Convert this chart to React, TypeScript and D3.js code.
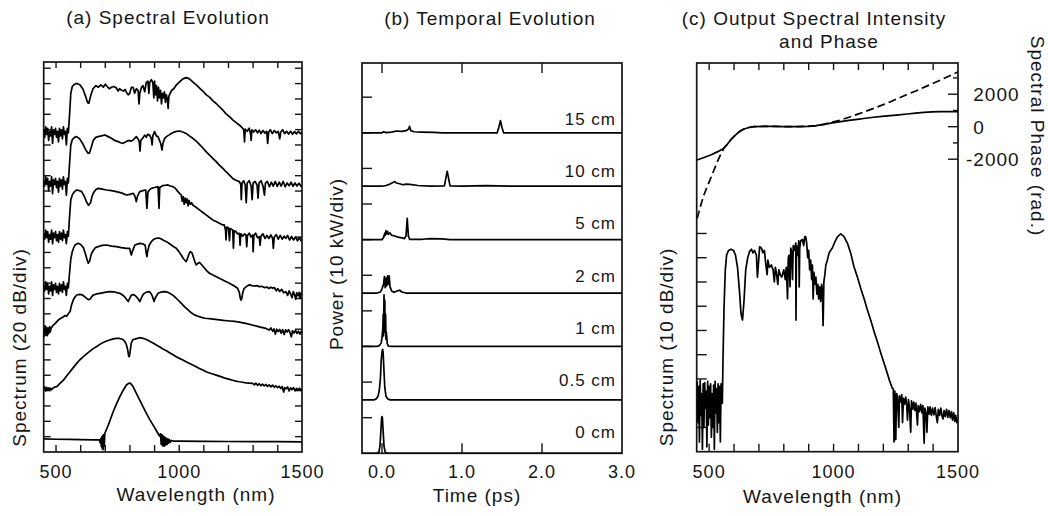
import * as d3 from "d3";
import { useEffect, useRef } from "react";

type Pt = [number, number];

const FONT = "'Liberation Sans', Arial, Helvetica, sans-serif";

// ---------------- (a) Spectral Evolution : level in plot units (1 unit ~ 1 dB/2) ----------------
// noise floors below the blue edge, sampled every 4 nm from 450 nm
const floorA15 = [212, 207, 214, 209, 213, 205, 211, 208, 214, 203, 212, 209, 213, 207, 211, 204, 213, 208, 212, 206, 214, 209, 211, 202, 213, 210];
const floorA10 = [179, 175, 181, 176, 180, 172, 178, 175, 181, 170, 179, 176, 180, 174, 178, 171, 180, 175, 179, 173, 181, 176, 178, 169, 180, 177];
const floorA5 = [144, 140, 146, 141, 145, 138, 143, 140, 146, 137, 144, 141, 145, 139, 143, 138, 145, 140, 144, 139, 146, 141, 143, 137, 145, 142];
const floorA2 = [110, 106, 112, 107, 111, 104, 109, 106, 112, 103, 110, 107, 111, 105, 109, 104, 111, 106, 110, 105, 112, 107, 109, 103, 111, 108];

const bodyA15: Pt[] = [[555,222],[560,236],[566,240.5],[575,242],[585,242.5],[598,241.5],[610,238.5],[620,234],[628,230],[633,229.5],[640,234],[650,239],[662,241],[672,240],[682,241.5],[692,240],[700,242],[708,240.5],[716,239],[725,240],[735,240.5],[745,239.5],[752,237.5],[758,239],[766,238],[774,237.5],[781,238.5],[786,236.5],[793,235],[799,236],[806,240],[813,240],[819,236],[826,239],[833,238],[837,229],[840,236],[847,240],[853,241],[860,237],[866,243],[873,244],[877,236],[880,243],[887,245],[893,243],[897,233],[900,244],[904,235],[908,241],[912,231],[916,240],[920,233],[924,238],[928,229],[932,236],[936,233],[940,237],[944,230],[948,235],[952,232],[955,226],[958,234],[963,236],[970,238],[978,239],[986,241],[995,242.5],[1005,244],[1015,245.5],[1028,246.3],[1040,245.7],[1055,243.5],[1069,241.5],[1082,239.5],[1096,237.5],[1110,235],[1123,233.5],[1137,231],[1150,229.3],[1164,227],[1177,225],[1190,222.5],[1204,220.6],[1217,218.5],[1231,216.7],[1245,215],[1255,213.5],[1262,212],[1265,204],[1268,212.5],[1276,211],[1284,213],[1290,209],[1292,205],[1295,212],[1302,210.5],[1310,212],[1318,210],[1325,211.8],[1332,209.5],[1340,211.5],[1348,209.8],[1355,211],[1359,203],[1363,210.5],[1370,212],[1378,209.5],[1386,211.5],[1394,210],[1402,211],[1408,206],[1412,210.5],[1420,212],[1428,209.5],[1436,211],[1444,209.2],[1452,211],[1460,209],[1468,210.8],[1476,209.3],[1484,211],[1492,209.5],[1500,210]];

const bodyA10: Pt[] = [[555,190],[560,202],[566,205.5],[575,207],[584,207.5],[596,206],[608,203],[620,199],[630,196.5],[636,196.8],[644,201],[651,205],[661,207],[671,207.5],[684,208],[698,208.6],[712,207.5],[725,206.4],[738,205],[752,204.2],[762,203.5],[772,203.1],[782,204],[793,205],[803,204.5],[813,205.3],[820,206.5],[826,207.5],[833,206],[838,204],[841,198],[844,205],[852,206.5],[860,208.5],[866,207],[872,209],[880,208.5],[887,206],[890,202],[893,208],[900,210.8],[907,208],[914,207.5],[920,205],[925,203],[930,198.7],[934,203],[940,206],[948,207.5],[958,208.5],[968,209.6],[980,210.5],[990,211],[1001,211.2],[1014,210.5],[1028,209.6],[1041,208],[1055,206.4],[1069,204.5],[1082,202.4],[1096,200],[1109,197.6],[1123,195.4],[1136,193.2],[1150,191],[1163,188.8],[1177,186.6],[1190,184.4],[1204,182.2],[1217,180],[1230,178.8],[1244,177.9],[1250,176],[1252,166],[1255,177],[1262,178.5],[1268,175.5],[1272,164],[1276,177],[1284,178.5],[1292,175],[1296,166],[1300,177],[1308,178],[1316,175.5],[1320,167],[1324,177],[1332,178.5],[1340,175],[1346,169],[1350,177],[1358,178],[1366,174.5],[1374,177.5],[1382,175],[1390,178],[1398,174.8],[1406,177.5],[1414,175],[1422,178],[1430,174.5],[1438,177],[1446,175.2],[1454,177.5],[1462,174.8],[1470,177],[1478,175],[1486,176.8],[1494,174.8],[1500,175.5]];

const bodyA5: Pt[] = [[555,155],[560,166],[567,169.5],[576,171.5],[584,172.4],[594,172],[604,171.3],[614,168.5],[624,164.5],[632,162.3],[640,164],[646,168],[651,170.2],[661,172.5],[671,173.5],[688,173],[705,172.4],[725,172],[745,171.3],[765,170.5],[786,169.1],[800,169.5],[813,170.2],[820,168.5],[826,164.7],[831,168.5],[840,171.3],[852,172],[864,172.4],[869,160.3],[873,171],[880,172.6],[887,173.5],[900,174],[914,174.6],[918,160.3],[921,174],[934,175.3],[944,175.5],[954,175.7],[964,175],[974,174.6],[984,173.5],[995,171.3],[1002,170],[1008,169.1],[1012,165],[1016,168],[1020,163],[1024,167],[1028,164],[1032,166.5],[1036,162],[1040,165.5],[1045,163],[1050,164],[1055,162.5],[1068,161],[1082,159.3],[1096,157.6],[1109,156],[1123,154.3],[1136,152.7],[1150,151.6],[1163,150.5],[1175,149.5],[1183,149.4],[1188,146],[1190,139.5],[1193,148],[1200,147.5],[1204,139],[1207,147],[1212,146.5],[1217,146.1],[1220,134],[1223,145.5],[1230,145],[1237,143.5],[1244,143.9],[1247,136],[1250,143.5],[1258,142],[1265,143.5],[1271,142.8],[1274,135],[1277,142.5],[1284,144],[1291,141.5],[1298,142.8],[1300,131.8],[1303,142.5],[1310,144],[1318,141],[1325,141.7],[1328,136],[1332,142],[1340,143.5],[1348,140.5],[1356,142.5],[1364,140.5],[1372,142.8],[1379,140.6],[1382,134],[1386,141.5],[1394,143],[1402,140],[1410,142.5],[1418,140],[1426,142],[1433,140.6],[1440,142.5],[1448,139.5],[1456,141.8],[1464,139.5],[1472,141.5],[1480,139],[1488,141.2],[1494,139],[1500,139.5]];

const bodyA2: Pt[] = [[555,118],[560,127],[566,131.8],[572,134.5],[577,136.2],[590,137.3],[600,136.5],[611,134.5],[620,130],[627,126],[631,124.2],[637,126],[643,130],[648,131.8],[660,134.5],[671,135.1],[688,136],[705,136.2],[725,135.5],[745,135.1],[765,134.5],[786,134],[799,134],[803,131],[806,129.6],[810,132],[820,136.2],[830,136.8],[840,137.3],[852,137],[862,136],[866,131],[869,128.6],[872,132],[878,136],[887,138.4],[897,140],[907,140.6],[917,140.8],[927,140.2],[938,139.2],[948,138.4],[958,137.3],[968,136.2],[978,135],[988,134],[998,132],[1008,129.6],[1018,127],[1024,126],[1028,125.3],[1033,127],[1040,130.5],[1045,131.8],[1052,131],[1058,128],[1064,125],[1069,123.1],[1075,124],[1082,124.8],[1092,123],[1103,120.9],[1113,119],[1123,117.6],[1143,116],[1163,114.3],[1183,112.7],[1204,111],[1220,109.5],[1237,107.7],[1244,105],[1248,101],[1251,100],[1254,101],[1258,105],[1264,107.7],[1274,109],[1285,110],[1295,109.5],[1305,109.2],[1315,109.5],[1325,108.8],[1335,109],[1345,108.2],[1355,108.5],[1365,107.6],[1372,108.5],[1379,107.7],[1386,108.2],[1394,106],[1400,107.5],[1408,105.6],[1416,107],[1424,104.8],[1433,105.5],[1440,103],[1446,106],[1452,104],[1458,101.5],[1463,105.5],[1468,103.5],[1473,100.5],[1477,104.8],[1482,102.8],[1487,105],[1490,101],[1494,104.5],[1500,104.4]];

const specA1: Pt[] = [[450,80],[453,76],[456,83],[459,77],[462,82],[465,76.5],[468,81.5],[471,78],[474,82.5],[477,79],[480,81.5],[489,83.5],[499,85],[509,86.8],[520,88],[530,89],[537,89.8],[543,89.3],[550,91],[557,92.4],[563,96.8],[570,100],[577,102],[584,103.3],[595,103.7],[604,103.6],[614,102.5],[624,101.1],[631,100.3],[638,100.5],[644,102],[651,103.2],[664,104],[678,104.4],[698,105],[718,105.5],[738,105.3],[759,104.4],[770,103.3],[779,102],[786,100.5],[793,99],[799,101],[806,103.3],[816,103.5],[826,102.2],[833,100.8],[840,99],[847,101.5],[855,104],[867,105.2],[880,105.5],[890,103],[895,100.5],[898,99],[903,101.5],[914,104.4],[928,105.3],[941,105.5],[951,105.2],[961,104.4],[971,103.5],[981,102.2],[995,100],[1008,97.9],[1022,95.5],[1035,93.6],[1049,91.6],[1062,90.2],[1076,89.3],[1090,88.6],[1105,88],[1130,87.6],[1155,87.1],[1180,86.6],[1205,86.2],[1225,85.9],[1244,85.5],[1270,84.6],[1300,83.4],[1325,82.3],[1352,81.3],[1365,80.2],[1372,81.6],[1380,79.4],[1385,81],[1390,77.6],[1396,80.8],[1402,79.2],[1408,80.7],[1414,78.2],[1420,80.5],[1426,77.3],[1432,80.4],[1438,79],[1444,80.5],[1450,78.5],[1455,75.8],[1460,79.8],[1466,78.3],[1472,80],[1478,78],[1484,79.5],[1490,77.5],[1495,79.3],[1500,78.8]];

const specA05: Pt[] = [[450,41.5],[454,42.8],[458,40.2],[462,42.5],[466,40.8],[470,42.2],[474,40.5],[478,42],[482,41],[488,42],[495,42.8],[503,43],[515,45],[530,47.3],[543,50],[557,52.8],[570,55.5],[584,58.3],[597,60.7],[611,62.7],[624,64.6],[638,66.4],[651,68],[664,69.3],[678,70.8],[691,72.1],[705,73],[718,73.7],[732,74.4],[745,74.8],[758,74.7],[772,74],[780,72.5],[786,70.4],[791,67],[795,63],[797,62.7],[800,65],[803,69],[806,72],[813,74],[820,74.3],[830,74.8],[840,75.2],[853,74.8],[867,74],[880,72.9],[894,71.7],[907,70.4],[921,69.1],[934,67.8],[948,66.6],[961,65.3],[975,64],[988,62.7],[1001,61.6],[1015,60.5],[1028,59.4],[1042,58.3],[1055,57.2],[1069,56.1],[1082,55],[1096,53.9],[1109,52.8],[1123,52],[1136,51.3],[1150,50.6],[1163,49.9],[1177,49.1],[1190,48.4],[1204,47.8],[1217,47.2],[1230,46.6],[1244,46.2],[1257,45.9],[1271,45.5],[1284,45.3],[1298,45.1],[1305,44.2],[1311,45.3],[1318,43.9],[1325,44.9],[1332,43.6],[1338,44.6],[1345,43.5],[1352,44.4],[1358,43.2],[1365,44.2],[1372,42.8],[1379,44],[1386,42.6],[1392,43.6],[1399,42.4],[1406,43.3],[1412,41.8],[1418,43],[1424,39.5],[1428,42.4],[1434,41.6],[1440,42.8],[1446,40.2],[1452,42.2],[1458,41],[1464,42.4],[1470,40.3],[1476,41.9],[1482,40.8],[1488,42],[1494,40.6],[1500,41.4]];

const specA0: Pt[] = [[450,8.6],[500,8.4],[550,8.3],[600,8.2],[650,8],[676,8],[679,6],[682,9],[684,3.5],[686,10],[688,2],[690,11],[692,1.5],[694,11.5],[696,4],[698,12.2],[705,15],[712,17.7],[722,22],[732,26.5],[745,31.5],[759,36.4],[772,40.5],[786,44.1],[793,45],[799,45.4],[806,44.6],[813,43],[826,38.6],[840,34.2],[853,29.8],[867,25.4],[880,21.5],[894,17.7],[904,15],[914,12.2],[920,10.5],[924,12],[927,5],[930,11.5],[933,4],[936,10.5],[939,3.8],[942,9.8],[945,4.5],[948,9],[951,5],[954,8.6],[957,5.8],[960,8.2],[964,6.4],[968,7.6],[975,7.2],[1000,7.1],[1100,7],[1200,6.9],[1300,6.8],[1400,6.8],[1500,6.7]];

const withFloor = (floor: number[], body: Pt[]): Pt[] => [
  ...floor.map((v, i) => [450 + 4 * i, v] as Pt),
  ...body,
];

const tracesA: Pt[][] = [
  specA0,
  specA05,
  specA1,
  withFloor(floorA2, bodyA2),
  withFloor(floorA5, bodyA5),
  withFloor(floorA10, bodyA10),
  withFloor(floorA15, bodyA15),
];

// ---------------- (b) Temporal Evolution : [time ps, power kW] ----------------
const lengthsB = ["0 cm", "0.5 cm", "1 cm", "2 cm", "5 cm", "10 cm", "15 cm"];
const offsetsB = [0, 15, 30, 45, 60, 75, 90]; // kW, 1.5 div apart

const pulseB0: Pt[] = [[-0.25,0],[-0.07,0],[-0.04,0.3],[-0.025,2],[-0.015,6],[-0.005,10],[0,10.3],[0.005,10],[0.015,6],[0.025,2],[0.04,0.3],[0.07,0],[3,0]];
const pulseB05: Pt[] = [[-0.25,0],[-0.1,0],[-0.07,0.3],[-0.05,1],[-0.035,2.5],[-0.02,6],[-0.01,11],[0,13.5],[0.008,14.2],[0.015,13],[0.025,8],[0.035,3.5],[0.05,1],[0.07,0.3],[0.1,0],[3,0]];
const pulseB1: Pt[] = [[-0.25,0],[-0.06,0],[-0.03,0.3],[-0.01,1],[0,2.5],[0.01,5],[0.015,9],[0.02,3],[0.025,14.5],[0.03,6],[0.035,13],[0.04,4],[0.045,9],[0.05,2],[0.055,4],[0.065,0.8],[0.08,0.1],[0.12,0],[3,0]];
const pulseB2: Pt[] = [[-0.25,0],[-0.06,0],[-0.02,0.3],[0,1.2],[0.02,2.5],[0.03,4.6],[0.04,1.5],[0.05,4.2],[0.06,2],[0.07,4.8],[0.08,2.5],[0.09,4.8],[0.1,1.8],[0.12,0.6],[0.15,0.2],[0.19,0.6],[0.22,0.8],[0.25,0.3],[0.3,0],[3,0]];
const pulseB5: Pt[] = [[-0.25,0],[0,0],[0.02,0.6],[0.035,1.8],[0.04,1.2],[0.05,2.5],[0.06,1.6],[0.07,2.3],[0.08,1.5],[0.1,1.9],[0.12,1.2],[0.15,1.1],[0.2,0.7],[0.25,0.5],[0.28,0.3],[0.3,1],[0.315,6],[0.33,1],[0.345,0.1],[0.5,0.1],[0.6,0.3],[0.75,0.2],[0.85,0],[3,0]];
const pulseB10: Pt[] = [[-0.25,0],[0,0],[0.05,0.2],[0.1,0.6],[0.13,1],[0.16,1.3],[0.18,0.9],[0.22,0.7],[0.26,0.4],[0.3,0.6],[0.35,0.5],[0.45,0.2],[0.6,0.05],[0.78,0.1],[0.8,2.5],[0.815,4.2],[0.83,2.5],[0.85,0.1],[1,0.05],[1.3,0.15],[1.6,0.05],[3,0]];
const pulseB15: Pt[] = [[-0.25,0],[0,0],[0.02,0.3],[0.05,0.05],[0.12,0.2],[0.18,0.5],[0.25,0.4],[0.3,0.6],[0.33,1],[0.345,1.8],[0.36,0.6],[0.4,0.3],[0.5,0.2],[0.65,0.1],[0.75,0],[1.44,0],[1.46,1.5],[1.48,3.4],[1.5,1.5],[1.52,0],[3,0]];

const tracesB: Pt[][] = [pulseB0, pulseB05, pulseB1, pulseB2, pulseB5, pulseB10, pulseB15];

// ---------------- (c) Output spectrum (dB) and phase (rad) ----------------
// noise below the blue edge, every 3 nm from 452 nm
const noiseC = [-61,-78,-63,-86,-60.5,-75,-66,-89,-62,-80,-61.5,-72,-65,-88,-61,-79,-63,-76,-62,-84,-66,-80,-62.5,-89,-61,-74,-64,-82,-62,-78,-63,-86,-62,-70];
const bodyC: Pt[] = [[553,-70],[556,-50],[560,-30],[565,-15],[570,-9],[578,-7],[588,-6.5],[598,-7],[606,-9],[614,-14],[622,-24],[628,-33],[634,-35.7],[640,-28],[647,-15],[655,-10],[662,-7.5],[670,-6.5],[676,-8],[682,-7],[690,-9],[694,-18],[697,-14],[703,-5.5],[710,-6],[716,-8],[722,-7],[728,-13],[733,-17],[736,-11],[742,-14],[750,-13],[757,-15],[762,-20],[766,-14],[770,-16],[776,-21],[780,-15],[786,-17],[792,-18],[800,-15],[806,-19],[810,-14],[815,-27],[818,-10],[821,-9],[825,-22],[828,-6],[832,-8],[835,-19],[838,-5],[842,-7],[848,-4],[849,-35.7],[851,-5],[856,-9],[860,-3],[862,-22],[864,-6],[868,-3],[875,-2.5],[880,-5],[884,-1.5],[888,-1.3],[892,-4],[896,-10],[900,-7],[904,-15],[908,-11],[912,-19],[915,-13],[918,-27],[921,-16],[925,-21],[929,-18],[933,-25],[937,-21],[940,-27],[944,-22],[948,-28],[952,-21],[955,-24],[958,-38],[961,-20],[965,-17],[969,-13],[975,-11],[982,-8],[988,-7],[995,-6],[1005,-3.5],[1016,-1.3],[1029,-0.2],[1042,-1.3],[1050,-3],[1056,-4],[1062,-6],[1069,-8.2],[1082,-13.7],[1096,-18],[1109,-22.6],[1123,-27],[1136,-31.6],[1150,-36],[1163,-40.5],[1177,-45],[1190,-49.4],[1203,-53.5],[1216,-57.7],[1226,-61],[1236,-63.8],[1240,-64],[1243,-86],[1246,-65],[1250,-85],[1253,-66],[1257,-67.5],[1262,-80],[1265,-67],[1270,-69.5],[1274,-66.5],[1277,-78],[1281,-68],[1285,-70.5],[1290,-67.5],[1294,-71],[1297,-77],[1301,-68.5],[1305,-72],[1310,-82],[1313,-69],[1318,-72.5],[1322,-69.5],[1327,-73],[1331,-70],[1337,-79],[1340,-71],[1345,-73.5],[1350,-70.5],[1355,-74],[1359,-71],[1364,-86.5],[1367,-72],[1372,-74.5],[1375,-82],[1379,-71.5],[1384,-74.5],[1388,-71.5],[1393,-75],[1398,-72],[1403,-74.8],[1408,-71.8],[1413,-75.5],[1417,-78],[1421,-72.5],[1426,-75],[1431,-72],[1436,-75.5],[1440,-76.5],[1444,-73],[1449,-75.5],[1454,-72.5],[1459,-75.8],[1464,-73],[1469,-76],[1474,-73.5],[1478,-77],[1483,-74],[1487,-77.5],[1491,-75],[1495,-78],[1500,-76.5]];
const spectrumC: Pt[] = [...noiseC.map((v, i) => [452 + 3 * i, v] as Pt), ...bodyC];

const phaseSolid: Pt[] = [[452,-2050],[479,-1900],[506,-1740],[533,-1550],[559,-1330],[573,-1080],[586,-820],[600,-600],[613,-410],[627,-250],[640,-140],[660,-50],[680,0],[720,20],[760,20],[800,10],[850,0],[895,20],[930,70],[961,145],[995,230],[1028,310],[1062,385],[1095,455],[1128,520],[1161,580],[1195,630],[1229,680],[1262,730],[1296,780],[1330,835],[1363,885],[1396,910],[1430,925],[1463,930],[1500,930]];
const phaseDashed: Pt[] = [[452,-5640],[466,-4850],[479,-4200],[493,-3650],[506,-3180],[520,-2650],[533,-2150],[546,-1720],[559,-1330],[573,-1080],[586,-820],[600,-600],[613,-410],[627,-250],[640,-140],[660,-50],[680,0],[720,20],[760,20],[800,10],[850,0],[895,20],[930,70],[961,145],[995,290],[1028,410],[1062,580],[1095,760],[1128,940],[1161,1130],[1195,1330],[1229,1540],[1262,1760],[1296,1990],[1330,2200],[1363,2420],[1396,2640],[1430,2870],[1463,3110],[1500,3370]];

const phaseTicks = [-2000, -1000, 0, 1000, 2000, 3000];
const phaseLabels = [-2000, 0, 2000];
const wlLabels = [500, 1000, 1500];
const timeLabels = [0, 1, 2, 3];

export default function App() {
  const ref = useRef<SVGSVGElement>(null);

  useEffect(() => {
    const svg = d3.select(ref.current);
    svg.selectAll("*").remove();
    const ink = "#151515";

    const text = (x: number, y: number, s: string, size: number, anchor = "middle", rot = 0) => {
      const t = svg.append("text")
        .attr("x", x)
        .attr("y", y)
        .attr("font-family", FONT)
        .attr("font-size", size)
        .attr("letter-spacing", 1)
        .attr("text-anchor", anchor)
        .attr("fill", ink)
        .text(s);
      if (rot) t.attr("transform", `rotate(${rot},${x},${y})`);
      return t;
    };

    const frame = (x0: number, x1: number, y0: number, y1: number, id: string) => {
      svg.append("clipPath").attr("id", id)
        .append("rect").attr("x", x0).attr("y", y0).attr("width", x1 - x0).attr("height", y1 - y0);
      svg.append("rect")
        .attr("x", x0).attr("y", y0)
        .attr("width", x1 - x0).attr("height", y1 - y0)
        .attr("fill", "none").attr("stroke", ink).attr("stroke-width", 1.7);
    };

    const vTicks = (xs: number[], y: number, len: number) =>
      xs.forEach(x => svg.append("line").attr("x1", x).attr("x2", x).attr("y1", y).attr("y2", y + len)
        .attr("stroke", ink).attr("stroke-width", 1.4));
    const hTicks = (ys: number[], x: number, len: number) =>
      ys.forEach(y => svg.append("line").attr("x1", x).attr("x2", x + len).attr("y1", y).attr("y2", y)
        .attr("stroke", ink).attr("stroke-width", 1.4));

    const draw = (data: Pt[], x: d3.ScaleLinear<number, number>, y: d3.ScaleLinear<number, number>, clip: string, dash?: string) => {
      const line = d3.line<Pt>().x(d => x(d[0])).y(d => y(d[1]));
      const p = svg.append("path")
        .datum(data)
        .attr("d", line)
        .attr("fill", "none")
        .attr("stroke", "#000")
        .attr("stroke-width", 1.7)
        .attr("stroke-linejoin", "round")
        .attr("clip-path", `url(#${clip})`);
      if (dash) p.attr("stroke-dasharray", dash);
    };

    // ---------- panel (a) ----------
    const xA = d3.scaleLinear().domain([450, 1500]).range([43.7, 302.4]);
    const yA = d3.scaleLinear().domain([0, 256.6]).range([452, 62]);
    frame(43.7, 302, 62, 452, "clipA");
    const wlTicks = d3.range(500, 1500, 100);
    vTicks(wlTicks.map(xA), 62, 6);
    vTicks(wlTicks.map(xA), 452, -7);
    const aTicks = d3.range(10.1, 256, 10.1).map(yA);
    hTicks(aTicks, 43.7, 7);
    hTicks(aTicks, 302, -7);
    tracesA.forEach(t => draw(t, xA, yA, "clipA"));
    wlLabels.forEach(v => text(xA(v), 477.7, String(v), 18));
    text(196, 501, "Wavelength (nm)", 19);
    text(26, 347.5, "Spectrum (20 dB/div)", 19, "middle", -90);
    text(168, 24, "(a) Spectral Evolution", 19);

    // ---------- panel (b) ----------
    const xB = d3.scaleLinear().domain([-0.25, 3]).range([362, 622]);
    const yB = d3.scaleLinear().domain([0, 109.6]).range([453.3, 63]);
    frame(362, 622, 63, 453.3, "clipB");
    vTicks([0, 1, 2].map(xB), 63, 10);
    vTicks([0, 1, 2].map(xB), 453.3, -10);
    hTicks(d3.range(10, 109, 10).map(yB), 362, 10);
    tracesB.forEach((t, i) => draw(t.map(d => [d[0], d[1] + offsetsB[i]] as Pt), xB, yB, "clipB"));
    lengthsB.forEach((s, i) => text(616, yB(4.2 + i * 14.67), s, 17, "end"));
    timeLabels.forEach(v => text(xB(v), 478, v.toFixed(1), 18));
    text(477, 502, "Time (ps)", 19);
    text(343, 264, "Power (10 kW/div)", 19, "middle", -90);
    text(490, 25, "(b) Temporal Evolution", 19);

    // ---------- panel (c) ----------
    const xC = d3.scaleLinear().domain([450, 1500]).range([696.7, 958]);
    const yC = d3.scaleLinear().domain([-90, 70.3]).range([451.7, 63]);
    const pC = d3.scaleLinear().domain([-20000, 3920]).range([451.7, 63]);
    frame(696.7, 958, 63, 451.7, "clipC");
    vTicks(wlTicks.map(xC), 63, 7);
    vTicks(wlTicks.map(xC), 451.7, -8);
    hTicks(d3.range(-80, 1, 10).map(yC), 696.7, 10);
    phaseTicks.forEach(v => hTicks([pC(v)], 958, v % 2000 === 0 ? -10 : -5));
    draw(spectrumC, xC, yC, "clipC");
    draw(phaseSolid, xC, pC, "clipC");
    draw(phaseDashed, xC, pC, "clipC", "8,4");
    wlLabels.forEach(v => text(xC(v), 477.7, String(v), 18));
    phaseLabels.forEach(v => text(973.3, pC(v) + 7, String(v), 19, "start").attr("dx", v < 0 ? -7.3 : 0));
    text(822.5, 503, "Wavelength (nm)", 19);
    text(673, 347, "Spectrum (10 dB/div)", 19, "middle", -90);
    text(1031, 136, "Spectral Phase (rad.)", 19, "middle", 90);
    text(814, 25, "(c) Output Spectral Intensity", 19);
    text(829, 48, "and Phase", 19);
  }, []);

  return (
    <svg
      ref={ref}
      width={1048}
      height={516}
      style={{ position: "absolute", left: 0, top: 0, background: "#fff" }}
    />
  );
}
